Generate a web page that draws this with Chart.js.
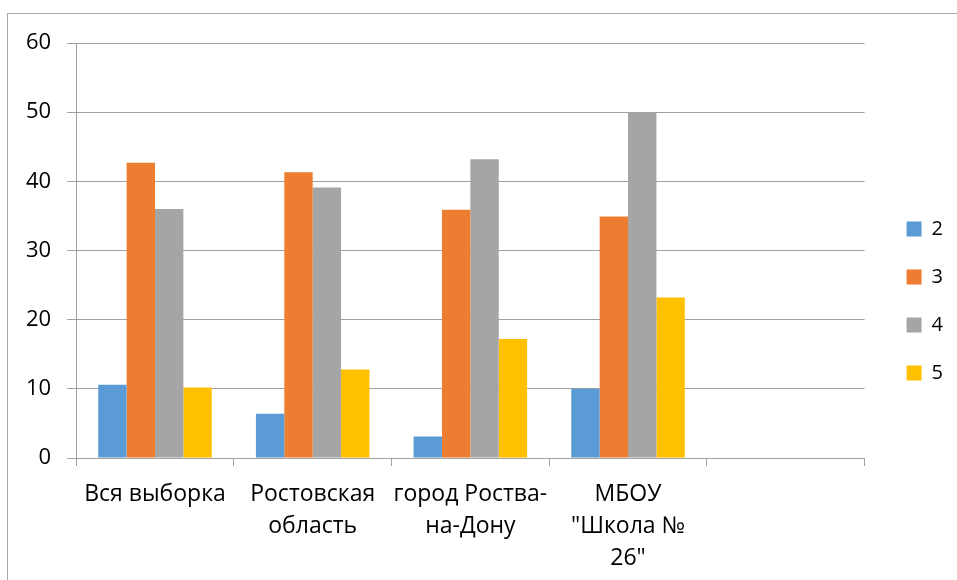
<!DOCTYPE html>
<html>
<head>
<meta charset="utf-8">
<script src="https://cdn.jsdelivr.net/npm/chart.js@4"></script>
<style>
  body { margin: 0; background: #fff; }
  #frame { position: absolute; left: 7px; top: 13px; width: 1000px; height: 620px; border: 1px solid #a6a6a6; }
  #wrap { position: absolute; left: 0; top: 0; width: 957px; height: 580px; }
</style>
</head>
<body>
<div id="frame"></div>
<div id="wrap"><canvas id="chart"></canvas></div>
<script>
const categories = [
  ['Вся выборка'],
  ['Ростовская', 'область'],
  ['город Роства-', 'на-Дону'],
  ['МБОУ', '"Школа №', '26"'],
  ''
];
const seriesNames = ['2', '3', '4', '5'];
const grade2 = [10.6, 6.4, 3.1, 10.0, null];
const grade3 = [42.7, 41.3, 35.9, 34.9, null];
const grade4 = [36.0, 39.1, 43.2, 50.0, null];
const grade5 = [10.2, 12.8, 17.2, 23.2, null];
const colors = ['#5b9bd5', '#ed7d31', '#a5a5a5', '#ffc000'];

const gridGray = '#a0a0a0';
const values = [grade2, grade3, grade4, grade5];

const ctx = document.getElementById('chart').getContext('2d');
new Chart(ctx, {
  type: 'bar',
  data: {
    labels: categories,
    datasets: seriesNames.map((name, i) => ({
      label: name,
      data: values[i],
      backgroundColor: colors[i],
      borderWidth: 0,
      categoryPercentage: 0.72,
      barPercentage: 1.0
    }))
  },
  options: {
    responsive: true,
    maintainAspectRatio: false,
    animation: false,
    layout: {
      padding: { top: 43, bottom: 0, left: 10, right: 4 }
    },
    scales: {
      x: {
        grid: {
          drawOnChartArea: false,
          tickLength: 8,
          color: gridGray
        },
        border: { color: gridGray },
        ticks: {
          padding: 13,
          color: '#000',
          maxRotation: 0,
          autoSkip: false,
          font: { family: 'Open Sans', size: 23, lineHeight: 1.38 }
        },
        afterFit: (s) => { s.height = 122; }
      },
      y: {
        min: 0,
        max: 60,
        ticks: {
          stepSize: 10,
          padding: 16,
          color: '#000',
          font: { family: 'Open Sans', size: 22 }
        },
        grid: { color: gridGray, tickLength: 9 },
        border: { color: gridGray }
      },
      // empty spacer between plot and legend
      yRight: {
        position: 'right',
        grid: { display: false },
        border: { display: false },
        ticks: { display: false },
        afterFit: (s) => { s.width = 14; }
      }
    },
    plugins: {
      legend: {
        position: 'right',
        align: 'start',
        title: {
          display: true,
          text: ' ',
          font: { size: 10 },
          padding: { top: 136, bottom: 0 }
        },
        labels: {
          boxWidth: 15,
          boxHeight: 15,
          padding: 28,
          color: '#000',
          font: { family: 'Open Sans', size: 20 }
        }
      },
      tooltip: { enabled: false }
    }
  }
});
</script>
</body>
</html>
